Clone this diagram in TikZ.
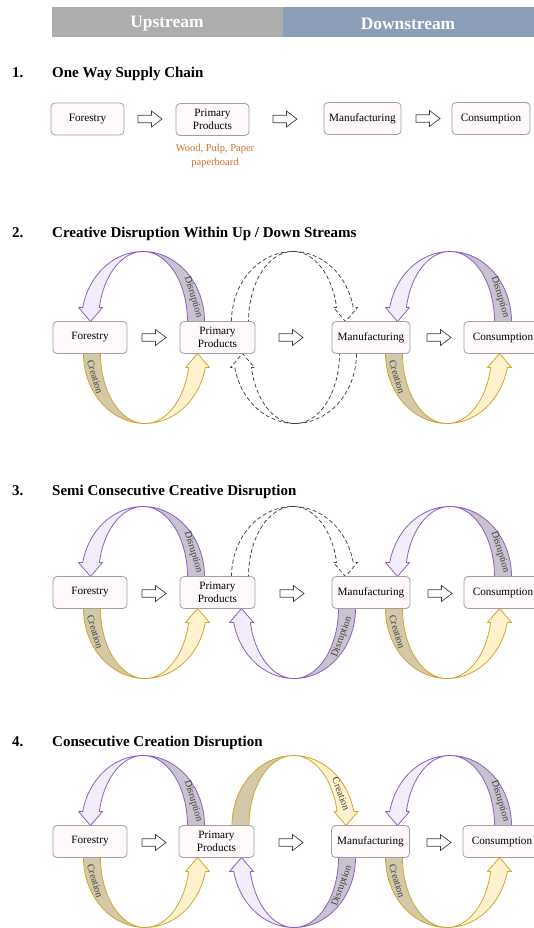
\documentclass[tikz,border=0pt]{standalone}
\usepackage{fontspec}
\setmainfont{Liberation Serif}
\definecolor{hdrgray}{HTML}{ADADAD}
\definecolor{hdrblue}{HTML}{8C9EB7}
\definecolor{boxline}{HTML}{A0A0A0}
\definecolor{boxfill}{HTML}{FFFAF9}
\definecolor{pline}{HTML}{8E5EC2}
\definecolor{pdark}{HTML}{C8C3CE}
\definecolor{plight}{HTML}{F1EDF9}
\definecolor{gline}{HTML}{D0A530}
\definecolor{gdark}{HTML}{D3C9A8}
\definecolor{glight}{HTML}{FFF2CC}
\definecolor{orangetxt}{HTML}{D0702A}
\definecolor{arrline}{HTML}{404040}
\newcommand{\arcAo}{61.5}
\newcommand{\arcAi}{44.5}
\newcommand{\arcB}{70}
% #1 cx, #2 cy, #3 xscale (1: tail right), #4 yscale (1: above), #5 dark style, #6 light style
\newcommand{\ribbonarc}[6]{%
  \begin{scope}[shift={(#1,#2)}, xscale=#3, yscale=#4]
    \filldraw[#5] plot[domain=0:90,samples=40] ({\arcAo*cos(\x)},{-\arcB*sin(\x)})
      -- plot[domain=90:0,samples=40] ({\arcAi*cos(\x)},{-\arcB*sin(\x)}) -- cycle;
    \filldraw[#6] plot[domain=90:168.46,samples=40] ({\arcAo*cos(\x)},{-\arcB*sin(\x)})
      -- (-64.5,-14) -- (-52.5,0) -- (-40.5,-14)
      -- plot[domain=168.46:90,samples=40] ({\arcAi*cos(\x)},{-\arcB*sin(\x)}) -- cycle;
  \end{scope}}
\newcommand{\dashedarc}[4]{%
  \begin{scope}[shift={(#1,#2)}, xscale=#3, yscale=#4]
    \draw[dasharc] plot[domain=0:168.46,samples=60] ({\arcAo*cos(\x)},{-\arcB*sin(\x)})
      -- (-64.5,-14) -- (-52.5,0) -- (-40.5,-14)
      -- plot[domain=168.46:0,samples=60] ({\arcAi*cos(\x)},{-\arcB*sin(\x)}) -- cycle;
  \end{scope}}
\tikzset{
  box/.style={draw=boxline, fill=boxfill, rounded corners=4pt, line width=0.8pt,
    font=\fontsize{11.2}{13.5}\selectfont, align=center, inner sep=0pt, minimum height=32pt},
  barrow/.style={draw=arrline, fill=white, line width=0.7pt, line join=miter},
  blockarr/.pic={\draw[barrow] (0,-3.8) -- (13.5,-3.8) -- (13.5,-8) -- (24,0) -- (13.5,8) -- (13.5,3.8) -- (0,3.8) -- cycle;},
  purpdark/.style={draw=pline, fill=pdark, line width=0.8pt, line join=round},
  purplight/.style={draw=pline, fill=plight, line width=0.8pt, line join=round},
  golddark/.style={draw=gline, fill=gdark, line width=0.8pt, line join=round},
  goldlight/.style={draw=gline, fill=glight, line width=0.8pt, line join=round},
  dasharc/.style={draw=arrline, line width=0.75pt, dash pattern=on 4pt off 2.5pt, line join=round},
  arclabel/.style={font=\fontsize{10}{10}\selectfont, text=arrline, inner sep=0pt},
  hdrtext/.style={font=\fontsize{17.4}{18}\selectfont\bfseries, text=white},
  titletext/.style={font=\fontsize{15}{16}\selectfont\bfseries, anchor=base west, inner sep=0pt},
}
\begin{document}
\begin{tikzpicture}[x=1pt,y=-1pt]
\useasboundingbox (0,0) rectangle (534,928);
% header
\fill[hdrgray] (52,7) rectangle (283,37.5);
\fill[hdrblue] (283,7) rectangle (534,37.5);
\node[hdrtext] (up) at (167,24) {Upstream};
\node[hdrtext] (down) at (408,24) {Downstream};

% ---------- 1 ----------
\node[titletext] (n1) at (12,78) {1.};
\node[titletext] (t1) at (52,78) {One Way Supply Chain};
\node[box, minimum width=73pt] (f1) at (87.5,119) {Forestry};
\node[box, minimum width=73pt] (p1) at (212.5,119.5) {Primary\\Products};
\node[box, minimum width=77pt] (m1) at (362.5,118.5) {Manufacturing};
\node[box, minimum width=78pt] (c1) at (491,118.5) {Consumption};
\pic at (138,119) {blockarr};
\pic at (273,119) {blockarr};
\pic at (416,118.5) {blockarr};
\node[font=\fontsize{10.5}{14}\selectfont, text=orangetxt, align=center] (wood) at (215,156) {Wood, Pulp, Paper\\paperboard};

% ---------- 2 ----------
\node[titletext] (n2) at (12,237) {2.};
\node[titletext] (t2) at (52,237) {Creative Disruption Within Up / Down Streams};
\ribbonarc{143}{321.5}{1}{1}{purpdark}{purplight}
\ribbonarc{145}{353.5}{-1}{-1}{golddark}{goldlight}
\dashedarc{293}{321.5}{-1}{1}
\dashedarc{295}{353.5}{1}{-1}
\ribbonarc{450}{321.5}{1}{1}{purpdark}{purplight}
\ribbonarc{447}{353.5}{-1}{-1}{golddark}{goldlight}
\node[arclabel, rotate=-73] (l2a) at (193,297) {Disruption};
\node[arclabel, rotate=-73] (l2b) at (95,377) {Creation};
\node[arclabel, rotate=-73] (l2c) at (500,297) {Disruption};
\node[arclabel, rotate=-73] (l2d) at (397,377) {Creation};
\node[box, minimum width=74pt] (f2) at (90,337.5) {Forestry};
\node[box, minimum width=75pt] (p2) at (217.5,337.5) {Primary\\Products};
\node[box, minimum width=78pt] (m2) at (371,337.5) {Manufacturing};
\node[box, minimum width=78pt] (c2) at (503,337.5) {Consumption};
\pic at (142,337.5) {blockarr};
\pic at (279,337.5) {blockarr};
\pic at (427,337.5) {blockarr};

% ---------- 3 ----------
\node[titletext] (n3) at (12,495) {3.};
\node[titletext] (t3) at (52,495) {Semi Consecutive Creative Disruption};
\ribbonarc{143}{576.5}{1}{1}{purpdark}{purplight}
\ribbonarc{145}{608.5}{-1}{-1}{golddark}{goldlight}
\dashedarc{293}{576.5}{-1}{1}
\ribbonarc{294}{608.5}{1}{-1}{purpdark}{purplight}
\ribbonarc{450}{576.5}{1}{1}{purpdark}{purplight}
\ribbonarc{447}{608.5}{-1}{-1}{golddark}{goldlight}
\node[arclabel, rotate=-73] (l3a) at (193,552) {Disruption};
\node[arclabel, rotate=-73] (l3b) at (95,632) {Creation};
\node[arclabel, rotate=70] (l3e) at (342,637) {Disruption};
\node[arclabel, rotate=-73] (l3c) at (500,552) {Disruption};
\node[arclabel, rotate=-73] (l3d) at (397,632) {Creation};
\node[box, minimum width=74pt] (f3) at (90,592.5) {Forestry};
\node[box, minimum width=75pt] (p3) at (217.5,592.5) {Primary\\Products};
\node[box, minimum width=78pt] (m3) at (371,592.5) {Manufacturing};
\node[box, minimum width=78pt] (c3) at (503,592.5) {Consumption};
\pic at (142,593.5) {blockarr};
\pic at (280,593.5) {blockarr};
\pic at (428,593.5) {blockarr};

% ---------- 4 ----------
\node[titletext] (n4) at (12,746) {4.};
\node[titletext] (t4) at (52,746) {Consecutive Creation Disruption};
\ribbonarc{143}{825.5}{1}{1}{purpdark}{purplight}
\ribbonarc{145}{857.5}{-1}{-1}{golddark}{goldlight}
\ribbonarc{293.5}{825.5}{-1}{1}{golddark}{goldlight}
\ribbonarc{294}{857.5}{1}{-1}{purpdark}{purplight}
\ribbonarc{450}{825.5}{1}{1}{purpdark}{purplight}
\ribbonarc{447}{857.5}{-1}{-1}{golddark}{goldlight}
\node[arclabel, rotate=-73] (l4a) at (193,801) {Disruption};
\node[arclabel, rotate=-73] (l4b) at (95,881) {Creation};
\node[arclabel, rotate=-70] (l4f) at (341,794) {Creation};
\node[arclabel, rotate=70] (l4e) at (342,886) {Disruption};
\node[arclabel, rotate=-73] (l4c) at (500,801) {Disruption};
\node[arclabel, rotate=-73] (l4d) at (397,881) {Creation};
\node[box, minimum width=74pt] (f4) at (90,841.5) {Forestry};
\node[box, minimum width=75pt] (p4) at (216.5,841.5) {Primary\\Products};
\node[box, minimum width=78pt] (m4) at (370.5,841.5) {Manufacturing};
\node[box, minimum width=78pt] (c4) at (502,841.5) {Consumption};
\pic at (142,842.5) {blockarr};
\pic at (279,842.5) {blockarr};
\pic at (427,842.5) {blockarr};
\end{tikzpicture}
\end{document}
